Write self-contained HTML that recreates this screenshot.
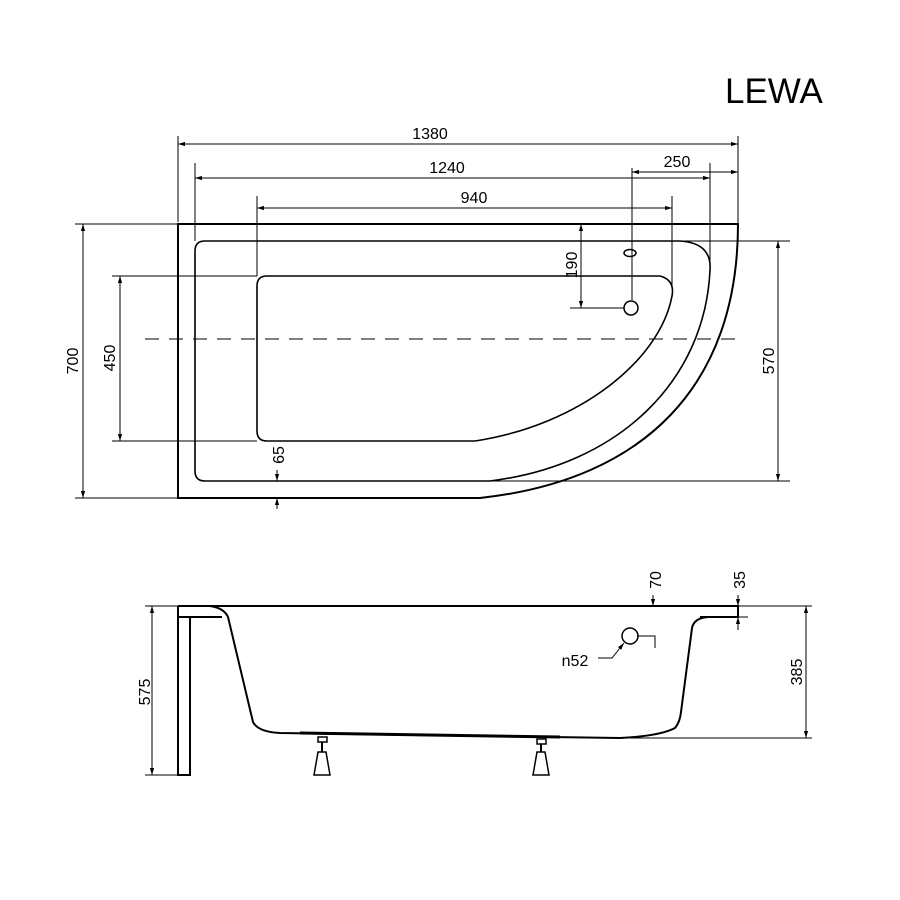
<!DOCTYPE html>
<html><head><meta charset="utf-8"><style>
html,body{margin:0;padding:0;background:#fff;}
svg{display:block;}
text{font-family:"Liberation Sans",sans-serif;fill:#000;}
</style></head><body>
<svg width="900" height="900" viewBox="0 0 900 900" xmlns="http://www.w3.org/2000/svg">
<defs>
<marker id="a" viewBox="0 0 10 10" refX="10" refY="5" markerWidth="7" markerHeight="7" orient="auto-start-reverse"><path d="M0,2 L10,5 L0,8 z" fill="#000"/></marker>
</defs>
<text x="725" y="103" font-size="35">LEWA</text>
<g stroke="#000" stroke-width="1" fill="none">
<line x1="178" y1="136" x2="178" y2="222"/>
<line x1="738" y1="136" x2="738" y2="224"/>
<line x1="195" y1="163" x2="195" y2="241"/>
<line x1="710" y1="163" x2="710" y2="270"/>
<line x1="632" y1="168" x2="632" y2="300"/>
<line x1="257" y1="196" x2="257" y2="276"/>
<line x1="672" y1="196" x2="672" y2="285"/>
<line x1="75" y1="224" x2="178" y2="224"/>
<line x1="75" y1="498" x2="480" y2="498"/>
<line x1="112" y1="276" x2="257" y2="276"/>
<line x1="112" y1="441" x2="257" y2="441"/>
<line x1="680" y1="241" x2="790" y2="241"/>
<line x1="490" y1="481" x2="790" y2="481"/>
<line x1="570" y1="308" x2="624" y2="308"/>
<line x1="178" y1="144" x2="738" y2="144" marker-start="url(#a)" marker-end="url(#a)"/>
<line x1="195" y1="178" x2="710" y2="178" marker-start="url(#a)" marker-end="url(#a)"/>
<line x1="632" y1="172" x2="738" y2="172" marker-start="url(#a)" marker-end="url(#a)"/>
<line x1="257" y1="208" x2="672" y2="208" marker-start="url(#a)" marker-end="url(#a)"/>
<line x1="83" y1="224" x2="83" y2="498" marker-start="url(#a)" marker-end="url(#a)"/>
<line x1="120" y1="276" x2="120" y2="441" marker-start="url(#a)" marker-end="url(#a)"/>
<line x1="778" y1="241" x2="778" y2="481" marker-start="url(#a)" marker-end="url(#a)"/>
<line x1="581" y1="224" x2="581" y2="308" marker-start="url(#a)" marker-end="url(#a)"/>
<line x1="277" y1="470" x2="277" y2="481" marker-end="url(#a)"/>
<line x1="277" y1="509" x2="277" y2="498" marker-end="url(#a)"/>
<line x1="145" y1="339" x2="740" y2="339" stroke-dasharray="14,10"/>
</g>
<g stroke="#000" stroke-width="2" fill="none">
<path d="M178,498 L178,224 L738,224 C738,385 645,480 480,498 Z"/>
<path d="M205,241 L680,241 Q712,243 710,270 C705,380 620,465 490,481 L205,481 Q195,481 195,471 L195,251 Q195,241 205,241 Z" stroke-width="1.6"/>
<path d="M267,276 L660,276 Q675,280 672,296 C660,360 580,425 475,441 L267,441 Q257,441 257,431 L257,286 Q257,276 267,276 Z" stroke-width="1.6"/>
<ellipse cx="630" cy="253" rx="6" ry="3.5" stroke-width="1.5"/>
<circle cx="631" cy="308" r="7" stroke-width="1.5"/>
</g>
<g font-size="16" text-anchor="middle">
<text x="430" y="139">1380</text>
<text x="447" y="173">1240</text>
<text x="677" y="167">250</text>
<text x="474" y="203">940</text>
<text transform="translate(78,361) rotate(-90)">700</text>
<text transform="translate(115,358) rotate(-90)">450</text>
<text transform="translate(774,361) rotate(-90)">570</text>
<text transform="translate(577,265) rotate(-90)">190</text>
<text transform="translate(284,455) rotate(-90)">65</text>
</g>
<g stroke="#000" stroke-width="1" fill="none">
<line x1="145" y1="606" x2="178" y2="606"/>
<line x1="145" y1="775" x2="178" y2="775"/>
<line x1="152" y1="606" x2="152" y2="775" marker-start="url(#a)" marker-end="url(#a)"/>
<line x1="738" y1="606" x2="812" y2="606"/>
<line x1="630" y1="738" x2="812" y2="738"/>
<line x1="806" y1="606" x2="806" y2="738" marker-start="url(#a)" marker-end="url(#a)"/>
<line x1="653" y1="595" x2="653" y2="606" marker-end="url(#a)"/>
<line x1="738" y1="595" x2="738" y2="606" marker-end="url(#a)"/>
<line x1="738" y1="630" x2="738" y2="617" marker-end="url(#a)"/>
<line x1="738" y1="617" x2="748" y2="617"/>
<path d="M598,658 L612,658 L624,643" marker-end="url(#a)"/>
<path d="M637,636 L655,636 L655,648"/>
</g>
<g stroke="#000" stroke-width="2" fill="none">
<path d="M178,606 L738,606 L738,617 L700,617"/>
<path d="M178,606 L178,775 L190,775 L190,617 L222,617"/>
<path d="M178,617 L190,617"/>
<path d="M210,606 Q224,608 228,617 L253,722 Q258,732 280,733 L620,738 Q660,736 675,728 Q680,722 681,712 L692,628 Q694,618 708,617"/>
<circle cx="630" cy="636" r="8" stroke-width="1.5"/>
<path d="M300,733 L560,737" stroke-width="3"/>
<rect x="318" y="737" width="9" height="5" stroke-width="1.5"/>
<line x1="322" y1="742" x2="322" y2="752"/>
<path d="M318,752 L326,752 L330,775 L314,775 Z" stroke-width="1.5"/>
<rect x="537" y="739" width="9" height="5" stroke-width="1.5"/>
<line x1="541" y1="744" x2="541" y2="752"/>
<path d="M537,752 L545,752 L549,775 L533,775 Z" stroke-width="1.5"/>
</g>
<g font-size="16" text-anchor="middle">
<text x="575" y="666">n52</text>
<text transform="translate(150,692) rotate(-90)">575</text>
<text transform="translate(802,672) rotate(-90)">385</text>
<text transform="translate(661,580) rotate(-90)">70</text>
<text transform="translate(745,580) rotate(-90)">35</text>
</g>
</svg>
</body></html>
